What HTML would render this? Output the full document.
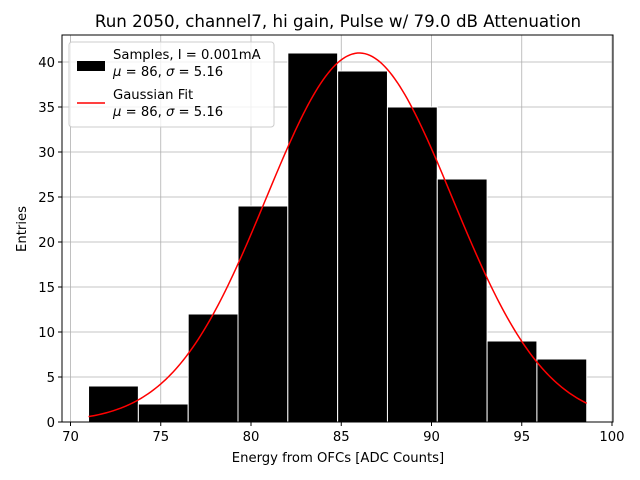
<!DOCTYPE html>
<html><head><meta charset="utf-8"><style>body{margin:0;background:#fff}svg{display:block;font-family:"DejaVu Sans","Liberation Sans",sans-serif}</style></head>
<body>
<svg id="chart" width="640" height="480">
<text x="338" y="27" font-size="16.7" text-anchor="middle">Run 2050, channel7, hi gain, Pulse w/ 79.0 dB Attenuation</text>
<g id="grid"></g><g id="bars"></g><g id="curve"></g><g id="axes"></g>
<text x="338" y="462" font-size="13.2" text-anchor="middle">Energy from OFCs [ADC Counts]</text>
<text x="26" y="229" font-size="13.2" text-anchor="middle" transform="rotate(-90 26 229)">Entries</text>
<g>
<rect x="69" y="42" width="205" height="85" fill="#fff" fill-opacity="0.8" stroke="#ccc" rx="3"/>
<rect x="77" y="61" width="28" height="10" fill="#000"/>
<text x="113" y="59" font-size="13.2">Samples, I = 0.001mA</text>
<text x="113" y="76" font-size="13.2"><tspan font-style="italic">μ</tspan> = 86, <tspan font-style="italic">σ</tspan> = 5.16</text>
<line x1="77" y1="103" x2="105" y2="103" stroke="red" stroke-width="1.5"/>
<text x="113" y="99" font-size="13.2">Gaussian Fit</text>
<text x="113" y="116" font-size="13.2"><tspan font-style="italic">μ</tspan> = 86, <tspan font-style="italic">σ</tspan> = 5.16</text>
</g>
</svg>
<script>
const binStart = 71.0, binWidth = 2.76;
const counts = [4,2,12,24,41,39,35,27,9,7];
const xTicks = [70,75,80,85,90,95,100];
const yTicks = [0,5,10,15,20,25,30,35,40];
const fitMu = [86], fitSigma = [5.16], fitAmp = [41];
const L=62,R=613,T=35,B=422;
const xs=v=>70.5+(v-70)*(612-70.5)/30;
const ys=v=>B-v*9;
const NS="http://www.w3.org/2000/svg";
function mk(t,a,p){const e=document.createElementNS(NS,t);for(const k in a)e.setAttribute(k,a[k]);p.appendChild(e);return e;}
const grid=document.getElementById('grid'),axes=document.getElementById('axes');
xTicks.forEach(v=>{
 const g=mk('line',{x1:xs(v),x2:xs(v),y1:T,y2:B,stroke:'#b0b0b0','stroke-width':0.8},grid);
 
 
 mk('line',{x1:xs(v),x2:xs(v),y1:B,y2:B+4,stroke:'#000'},axes);
 const t=mk('text',{x:xs(v),y:B+19,'font-size':13.2,'text-anchor':'middle'},axes);t.textContent=v;
 
 
});
yTicks.forEach(v=>{
 const g=mk('line',{x1:L,x2:R,y1:ys(v),y2:ys(v),stroke:'#b0b0b0','stroke-width':0.8},grid);
 
 
 mk('line',{x1:L-4,x2:L,y1:ys(v),y2:ys(v),stroke:'#000'},axes);
 const t=mk('text',{x:L-7,y:ys(v)+5,'font-size':13.2,'text-anchor':'end'},axes);t.textContent=v;
 
 
});
const bars=document.getElementById('bars');
counts.forEach((c,i)=>{
 const x0=xs(binStart+i*binWidth),x1=xs(binStart+(i+1)*binWidth);
 const r=mk('rect',{x:x0,y:ys(c),width:x1-x0,height:B-ys(c),fill:'#000',stroke:'#fff','stroke-width':1},bars);
 
 
});
let d='';const x0=binStart,x1=binStart+counts.length*binWidth;
for(let k=0;k<=200;k++){const x=x0+(x1-x0)*k/200;const y=fitAmp[0]*Math.exp(-((x-fitMu[0])**2)/(2*fitSigma[0]**2));d+=(k?'L':'M')+xs(x).toFixed(2)+','+ys(y).toFixed(2);}
const p=mk('path',{d:d,fill:'none',stroke:'red','stroke-width':1.5},document.getElementById('curve'));


const f=mk('rect',{x:L,y:T,width:R-L,height:B-T,fill:'none',stroke:'#000','stroke-width':1},axes);


</script>
</body></html>
